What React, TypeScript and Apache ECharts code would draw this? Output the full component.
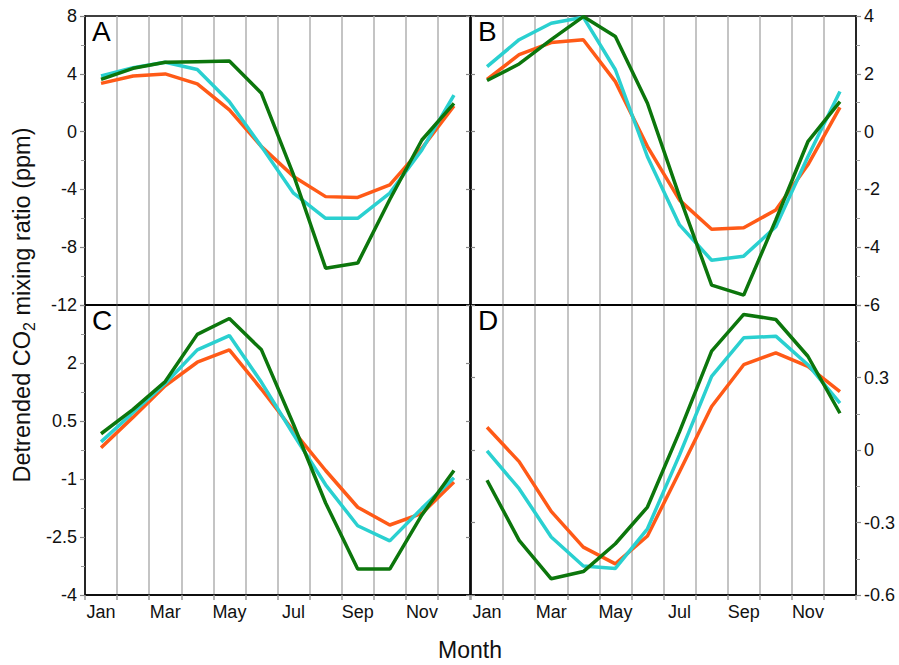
import React, { useEffect, useRef } from "react";
import * as echarts from "echarts";

const months = ["Jan", "Feb", "Mar", "Apr", "May", "Jun", "Jul", "Aug", "Sep", "Oct", "Nov", "Dec"];

// Panel A
const aGreen = [3.62, 4.38, 4.8, 4.84, 4.88, 2.65, -3.0, -9.45, -9.1, -4.7, -0.58, 1.96];
const aCyan = [3.85, 4.42, 4.8, 4.3, 2.07, -1.04, -4.26, -6.0, -6.0, -4.26, -1.27, 2.53];
const aOrange = [3.34, 3.85, 3.99, 3.3, 1.5, -1.04, -3.1, -4.5, -4.56, -3.69, -1.15, 1.77];
// Panel B
const bGreen = [1.77, 2.34, 3.18, 3.98, 3.29, 0.98, -2.25, -5.31, -5.66, -3.06, -0.35, 1.04];
const bCyan = [2.25, 3.18, 3.75, 3.96, 2.14, -0.87, -3.23, -4.45, -4.31, -3.29, -0.87, 1.39];
const bOrange = [1.81, 2.66, 3.08, 3.18, 1.73, -0.52, -2.37, -3.38, -3.33, -2.71, -1.15, 0.84];
// Panel C
const cGreen = [0.17, 0.8, 1.52, 2.74, 3.15, 2.34, 0.41, -1.62, -3.33, -3.33, -1.93, -0.78];
const cCyan = [-0.04, 0.72, 1.47, 2.34, 2.71, 1.5, 0.15, -1.15, -2.21, -2.6, -1.76, -0.97];
const cOrange = [-0.19, 0.6, 1.41, 2.02, 2.34, 1.32, 0.24, -0.78, -1.73, -2.19, -1.89, -1.08];
// Panel D
const dGreen = [-0.125, -0.374, -0.533, -0.503, -0.388, -0.236, 0.076, 0.409, 0.561, 0.54, 0.388, 0.152];
const dCyan = [-0.004, -0.16, -0.36, -0.48, -0.49, -0.326, -0.02, 0.305, 0.464, 0.471, 0.353, 0.194];
const dOrange = [0.094, -0.048, -0.254, -0.402, -0.471, -0.356, -0.09, 0.18, 0.353, 0.402, 0.346, 0.242];

// y ranges [min, max, interval]
const yRanges = [
  [-12, 8, 4],
  [-6, 4, 2],
  [-4, 3.5, 1.5],
  [-0.6, 0.6, 0.3],
];

const panelLetters = ["A", "B", "C", "D"];
const panelData = [
  [aOrange, aCyan, aGreen],
  [bOrange, bCyan, bGreen],
  [cOrange, cCyan, cGreen],
  [dOrange, dCyan, dGreen],
];
const lineColors = ["#ff5a17", "#2ad0d0", "#0c760c"];

export default function App() {
  const ref = useRef<HTMLDivElement>(null);
  useEffect(() => {
    if (!ref.current) return;
    const chart = echarts.init(ref.current, null, { renderer: "svg" });
    const font = "'Liberation Sans', Arial, Helvetica, sans-serif";
    const grids = [
      { left: 85, width: 385, top: 16, height: 289 },
      { left: 471, width: 385, top: 16, height: 289 },
      { left: 85, width: 385, top: 305, height: 290 },
      { left: 471, width: 385, top: 305, height: 290 },
    ].map((g) => ({ ...g, show: true, borderColor: "#000", borderWidth: 1.5, backgroundColor: "transparent" }));

    const xAxes = grids.map((_, i) => ({
      type: "category",
      gridIndex: i,
      data: months,
      boundaryGap: true,
      axisLine: { show: true, onZero: false, lineStyle: { color: "#000", width: 1.5 } },
      axisTick: {
        show: i >= 2,
        interval: 0,
        length: 5,
        lineStyle: { color: "#999", width: 1.5 },
      },
      axisLabel: {
        show: i >= 2,
        interval: 1,
        margin: 8,
        fontSize: 18,
        color: "#111",
        fontFamily: font,
      },
      splitLine: { show: true, interval: 0, lineStyle: { color: "#b0b0b0", width: 1.5 } },
    }));

    const yAxes: any[] = [];
    grids.forEach((_, i) => {
      const [min, max, interval] = yRanges[i];
      const labelSide = i % 2 === 0 ? "left" : "right";
      const otherSide = i % 2 === 0 ? "right" : "left";
      yAxes.push({
        type: "value",
        gridIndex: i,
        position: labelSide,
        min,
        max,
        interval,
        axisLine: { show: true, lineStyle: { color: "#000", width: 1.5 } },
        axisTick: { show: true, inside: false, length: 5, lineStyle: { color: "#888", width: 1.2 } },
        minorTick: { show: true, splitNumber: 2, length: 4, lineStyle: { color: "#999", width: 1 } },
        axisLabel: {
          show: true,
          margin: 8,
          fontSize: 18,
          color: "#111",
          fontFamily: font,
          showMinLabel: true,
          showMaxLabel: i < 2,
        },
        splitLine: { show: false },
      });
      yAxes.push({
        type: "value",
        gridIndex: i,
        position: otherSide,
        min,
        max,
        interval,
        axisLine: { show: true, lineStyle: { color: "#000", width: 1.5 } },
        axisTick: { show: true, inside: true, length: 4, lineStyle: { color: "#888", width: 1.2 } },
        minorTick: { show: false },
        axisLabel: { show: false },
        splitLine: { show: false },
      });
    });

    const series: any[] = [];
    panelData.forEach((lines, i) => {
      lines.forEach((vals, j) => {
        series.push({
          type: "line",
          xAxisIndex: i,
          yAxisIndex: i * 2,
          data: vals,
          symbol: "none",
          lineStyle: { color: lineColors[j], width: 3.5 },
          z: 3 + j,
        });
      });
    });

    const letterPos = [
      [92, 17],
      [478, 17],
      [92, 306],
      [478, 306],
    ];
    const graphics: any[] = panelLetters.map((t, i) => ({
      type: "text",
      x: letterPos[i][0],
      y: letterPos[i][1],
      z: 10,
      style: { text: t, fontSize: 28, fontFamily: font, fill: "#000", textAlign: "left", textVerticalAlign: "top" },
    }));
    graphics.push({
      type: "text",
      x: 470,
      y: 650,
      style: { text: "Month", fontSize: 23, fontFamily: font, fill: "#111", textAlign: "center", textVerticalAlign: "middle" },
    });
    graphics.push({
      type: "text",
      x: 22,
      y: 305,
      rotation: Math.PI / 2,
      style: {
        text: "{a|Detrended CO}{s|2}{a| mixing ratio (ppm)}",
        textAlign: "center",
        textVerticalAlign: "middle",
        fill: "#111",
        rich: {
          a: { fontSize: 23.5, fontFamily: font, fill: "#111", lineHeight: 30 },
          s: { fontSize: 16, fontFamily: font, fill: "#111", lineHeight: 14, verticalAlign: "bottom" },
        },
      },
    });

    chart.setOption({
      animation: false,
      backgroundColor: "#fff",
      grid: grids,
      xAxis: xAxes,
      yAxis: yAxes,
      series,
      graphic: graphics,
    });
    return () => chart.dispose();
  }, []);
  return <div ref={ref} style={{ position: "fixed", left: 0, top: 0, width: 899, height: 665 }} />;
}
